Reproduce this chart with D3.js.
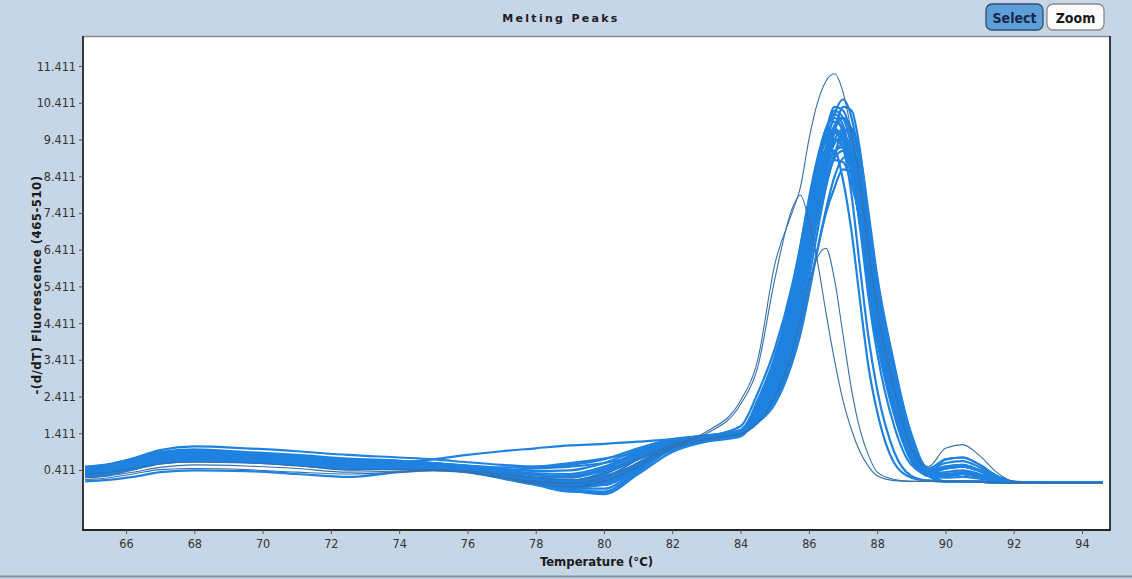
<!DOCTYPE html>
<html>
<head>
<meta charset="utf-8">
<script src="https://cdn.jsdelivr.net/npm/d3@7"></script>
<style>
  html, body { margin: 0; padding: 0; background: #c6d6e6; }
  svg { display: block; }
</style>
</head>
<body>
<svg id="chart" width="1132" height="579"></svg>
<script>
// ---------- DATA ----------
const temps = [64.8, 65.5, 66.2, 67, 68, 69.5, 71, 72.5, 74, 75, 76, 77, 78, 79, 80, 81, 82, 83, 84,
  84.5, 85, 85.5, 85.75, 86, 86.25, 86.5, 86.75, 87, 87.25, 87.5, 87.75, 88, 88.5, 89, 89.5,
  90, 90.5, 91, 91.5, 92, 93, 94.6];

const bundleSeries = [
  [0.48,0.55,0.7,0.88,0.95,0.88,0.8,0.7,0.66,0.6, 0.5,0.4,0.32,0.3,0.5,0.9,1.2,1.32,1.45, 2.0,2.9,4.4,5.4,6.8,8.0,9.0,9.65,9.6,9.0, 7.9,6.0,4.6,2.5,0.9,0.3, 0.25,0.3,0.22,0.12,0.07,0.06,0.06],
  [0.42,0.5,0.63,0.8,0.88,0.82,0.74,0.62,0.6,0.55, 0.45,0.3,0.2,0.12,0.3,0.75,1.12,1.3,1.4, 1.8,2.5,3.8,4.7,6.0,7.3,8.3,9.0,9.3,8.9, 8.0,6.6,5.0,2.9,1.1,0.35, 0.45,0.5,0.38,0.18,0.08,0.06,0.06],
  [0.38,0.44,0.56,0.72,0.8,0.76,0.67,0.56,0.55,0.5, 0.4,0.25,0.1,0.0,0.1,0.6,1.05,1.25,1.38, 2.2,3.3,5.0,6.2,7.6,8.8,9.7,10.1,9.8,8.8, 7.3,5.4,4.0,2.0,0.7,0.25, 0.1,0.1,0.09,0.07,0.06,0.06,0.06],
  [0.3,0.36,0.48,0.65,0.72,0.7,0.6,0.48,0.5,0.45, 0.36,0.2,0.05,-0.1,-0.1,0.45,1.0,1.22,1.35, 1.8,2.4,3.7,4.6,5.9,7.3,8.6,9.6,10.3,10.2, 9.1,7.2,5.4,3.0,1.2,0.4, 0.5,0.55,0.4,0.2,0.08,0.06,0.06],
  [0.1,0.14,0.22,0.35,0.4,0.38,0.3,0.22,0.35,0.4, 0.35,0.22,0.05,-0.15,-0.25,0.3,0.9,1.18,1.32, 1.9,2.7,4.1,5.0,6.3,7.4,8.3,8.85,8.8,8.2, 7.2,5.6,4.2,2.3,0.8,0.3, 0.25,0.3,0.22,0.12,0.07,0.06,0.06],
  [0.42,0.52,0.72,0.95,1.05,1.0,0.92,0.82,0.75,0.7, 0.62,0.55,0.5,0.55,0.7,1.0,1.25,1.35,1.45, 1.9,2.7,4.2,5.2,6.6,8.0,9.2,10.1,10.5,10.0, 8.7,6.7,5.0,2.7,1.0,0.3, 0.7,0.75,0.55,0.25,0.09,0.06,0.06],
  [0.35,0.4,0.52,0.68,0.75,0.72,0.66,0.58,0.62,0.7, 0.82,0.92,1.0,1.08,1.12,1.18,1.25,1.35,1.5, 2.1,3.1,4.7,5.8,7.1,8.2,9.0,9.4,9.2,8.4, 7.1,5.4,4.0,2.1,0.7,0.25, 0.1,0.1,0.09,0.07,0.06,0.06,0.06],
  [0.45,0.52,0.66,0.82,0.9,0.85,0.76,0.66,0.62,0.58, 0.5,0.42,0.45,0.5,0.6,0.8,1.1,1.28,1.4, 1.7,2.2,3.3,4.1,5.2,6.4,7.5,8.4,8.9,9.0, 8.4,7.0,5.5,3.2,1.4,0.45, 0.7,0.75,0.55,0.25,0.09,0.06,0.06],
  [0.22,0.28,0.42,0.58,0.65,0.62,0.55,0.42,0.45,0.45, 0.38,0.28,0.15,0.1,0.25,0.55,0.95,1.2,1.35, 2.0,2.8,4.3,5.3,6.7,8.0,9.1,9.8,10.0,9.5, 8.3,6.4,4.8,2.6,0.95,0.3, 0.25,0.3,0.22,0.12,0.07,0.06,0.06],
  [0.35,0.42,0.58,0.76,0.84,0.8,0.72,0.62,0.58,0.52, 0.42,0.3,0.12,0.02,0.0,0.5,1.05,1.27,1.4, 1.8,2.6,3.9,4.9,6.2,7.5,8.6,9.3,9.5,9.2, 8.2,6.6,5.1,2.9,1.1,0.35, 0.45,0.5,0.38,0.18,0.08,0.06,0.06],
  [0.44,0.52,0.66,0.83,0.9,0.84,0.75,0.64,0.6,0.54, 0.44,0.32,0.18,0.08,0.2,0.7,1.1,1.28,1.4, 1.7,2.3,3.4,4.2,5.3,6.4,7.4,8.1,8.6,8.5, 7.9,6.6,5.2,3.0,1.2,0.4, 0.1,0.1,0.09,0.07,0.06,0.06,0.06],
  [0.4,0.47,0.6,0.76,0.83,0.79,0.7,0.58,0.55,0.49, 0.38,0.22,0.06,-0.05,0.05,0.55,1.02,1.25,1.38, 2.1,3.0,4.6,5.7,7.2,8.5,9.6,10.2,10.0,9.2, 7.8,5.9,4.4,2.3,0.8,0.28, 0.25,0.3,0.22,0.12,0.07,0.06,0.06],
  [0.33,0.4,0.53,0.7,0.77,0.74,0.64,0.52,0.52,0.47, 0.37,0.22,0.08,-0.02,0.05,0.5,1.02,1.24,1.37, 1.95,2.8,4.3,5.3,6.6,7.8,8.8,9.4,9.4,8.9, 7.8,6.1,4.7,2.6,0.95,0.3, 0.1,0.1,0.09,0.07,0.06,0.06,0.06],
  [0.47,0.54,0.68,0.85,0.92,0.86,0.77,0.67,0.63,0.6, 0.53,0.48,0.5,0.6,0.72,0.9,1.15,1.3,1.42, 2.0,3.0,4.7,5.8,7.1,8.3,9.2,9.6,9.2,7.9, 5.9,4.0,2.6,0.9,0.25,0.12, 0.1,0.1,0.09,0.07,0.06,0.06,0.06],
  [0.36,0.43,0.6,0.78,0.86,0.82,0.74,0.64,0.6,0.54, 0.44,0.32,0.15,0.05,0.1,0.6,1.08,1.28,1.4, 1.9,2.7,4.1,5.1,6.5,7.8,8.9,9.7,10.0,9.7, 8.6,6.8,5.2,2.9,1.1,0.35, 0.45,0.5,0.38,0.18,0.08,0.06,0.06],
  [0.5,0.57,0.72,0.9,0.97,0.9,0.82,0.72,0.66,0.6, 0.52,0.44,0.38,0.4,0.6,0.95,1.22,1.33,1.45, 2.0,3.0,4.6,5.6,7.0,8.2,9.1,9.6,9.5,8.8, 7.5,5.7,4.3,2.3,0.8,0.28, 0.25,0.3,0.22,0.12,0.07,0.06,0.06],
  [0.37,0.43,0.55,0.7,0.78,0.75,0.66,0.55,0.53,0.48, 0.38,0.2,0.02,-0.12,-0.18,0.4,1.0,1.23,1.37, 1.85,2.6,4.0,5.0,6.3,7.6,8.7,9.4,9.7,9.4, 8.4,6.7,5.2,3.0,1.1,0.35, 0.1,0.1,0.09,0.07,0.06,0.06,0.06],
  [0.41,0.48,0.62,0.79,0.86,0.81,0.72,0.6,0.57,0.52, 0.43,0.3,0.17,0.1,0.35,0.8,1.15,1.3,1.42, 1.9,2.7,4.0,5.0,6.3,7.5,8.5,9.1,9.2,8.7, 7.7,6.1,4.6,2.5,0.9,0.3, 0.45,0.5,0.38,0.18,0.08,0.06,0.06],
  [0.28,0.34,0.46,0.62,0.7,0.68,0.58,0.46,0.48,0.44, 0.35,0.18,0.0,-0.18,-0.2,0.35,0.98,1.2,1.35, 2.1,3.2,4.9,6.0,7.4,8.6,9.5,9.9,9.7,8.8, 7.4,5.6,4.2,2.1,0.75,0.25, 0.25,0.3,0.22,0.12,0.07,0.06,0.06],
  [0.25,0.3,0.44,0.6,0.67,0.64,0.56,0.44,0.46,0.46, 0.4,0.3,0.2,0.2,0.4,0.7,1.05,1.25,1.38, 2.3,3.5,5.3,6.5,7.7,8.6,9.1,9.1,8.3,6.9, 5.0,3.2,2.0,0.6,0.2,0.12, 0.1,0.1,0.09,0.07,0.06,0.06,0.06],
  [0.43,0.5,0.64,0.82,0.9,0.85,0.78,0.68,0.64,0.58, 0.48,0.36,0.26,0.22,0.42,0.85,1.18,1.32,1.6, 2.5,3.7,5.4,6.5,7.8,8.9,9.7,10.0,9.6,8.6, 7.0,5.1,3.6,1.6,0.55,0.3, 0.5,0.55,0.4,0.2,0.08,0.06,0.06],
  [0.32,0.38,0.5,0.66,0.74,0.71,0.62,0.5,0.5,0.46, 0.37,0.22,0.08,-0.06,0.0,0.45,1.0,1.22,1.36, 1.75,2.35,3.5,4.4,5.6,6.9,8.1,9.0,9.6,9.7, 9.0,7.4,5.7,3.3,1.3,0.4, 0.6,0.65,0.48,0.22,0.08,0.06,0.06],
  [0.46,0.53,0.67,0.84,0.92,0.87,0.79,0.69,0.64,0.59, 0.5,0.38,0.28,0.25,0.45,0.85,1.17,1.31,1.5, 2.2,3.2,4.8,5.9,7.3,8.6,9.6,10.3,10.2,9.5, 8.1,6.2,4.6,2.4,0.85,0.3, 0.35,0.4,0.3,0.15,0.07,0.06,0.06],
  [0.26,0.32,0.45,0.6,0.68,0.66,0.57,0.45,0.47,0.45, 0.37,0.22,0.06,-0.08,0.02,0.45,0.98,1.22,1.36, 1.9,2.6,3.9,4.8,6.0,7.2,8.2,8.9,9.1,8.8, 8.0,6.5,5.0,2.8,1.05,0.33, 0.3,0.35,0.26,0.13,0.07,0.06,0.06],
  [0.4,0.46,0.58,0.74,0.82,0.78,0.7,0.6,0.57,0.52, 0.42,0.28,0.14,0.05,0.15,0.6,1.05,1.26,1.45, 2.3,3.4,5.1,6.2,7.5,8.6,9.4,9.7,9.4,8.5, 7.1,5.3,3.9,1.9,0.65,0.25, 0.2,0.22,0.17,0.1,0.07,0.06,0.06]
];

const outlierSeries = [
  [0.15,0.2,0.3,0.42,0.45,0.42,0.35,0.3,0.35,0.4, 0.38,0.3,0.2,0.15,0.3,0.7,1.1,1.45,2.3, 3.4,6.0,7.4,8.1,9.4,10.4,11.0,11.2,10.7,9.6, 8.2,6.4,4.8,2.6,1.0,0.5, 1.0,1.1,0.8,0.35,0.1,0.06,0.06],
  [0.3,0.35,0.45,0.58,0.62,0.6,0.52,0.42,0.42,0.42, 0.35,0.22,0.1,0.05,0.2,0.6,1.05,1.4,2.2, 3.2,5.6,7.5,7.9,7.2,6.1,4.7,3.4,2.3,1.5, 0.9,0.5,0.25,0.12,0.1,0.1, 0.1,0.1,0.09,0.07,0.06,0.06,0.06],
  [0.2,0.25,0.35,0.48,0.55,0.52,0.45,0.35,0.38,0.4, 0.35,0.2,0.05,-0.05,0.1,0.5,1.0,1.25,1.4, 1.7,2.4,3.6,4.5,5.5,6.2,6.45,5.6,4.1,2.6, 1.5,0.8,0.35,0.15,0.1,0.1, 0.1,0.1,0.09,0.07,0.06,0.06,0.06]
];

const yTicks = [0.411, 1.411, 2.411, 3.411, 4.411, 5.411, 6.411, 7.411, 8.411, 9.411, 10.411, 11.411];
const xTicks = [66, 68, 70, 72, 74, 76, 78, 80, 82, 84, 86, 88, 90, 92, 94];
const titleText = "Melting Peaks";
const xTitle = "Temperature (°C)";
const yTitle = "-(d/dT) Fluorescence (465-510)";
const buttons = ["Select", "Zoom"];

// ---------- LAYOUT ----------
const svg = d3.select("#chart");
const plot = { left: 83, right: 1110, top: 36, bottom: 530 };
const x = d3.scaleLinear().domain([64.74, 94.82]).range([plot.left, plot.right]);
const y = d3.scaleLinear().domain([-1.225, 12.23]).range([plot.bottom, plot.top]);

// background panel
svg.append("rect").attr("x", 0).attr("y", 0).attr("width", 1132).attr("height", 579).attr("fill", "#c6d6e6");
svg.append("line").attr("x1", 0).attr("x2", 1132).attr("y1", 576.5).attr("y2", 576.5)
  .attr("stroke", "#8795a3").attr("stroke-width", 2);

// plot area
svg.append("rect").attr("x", plot.left).attr("y", plot.top)
  .attr("width", plot.right - plot.left).attr("height", plot.bottom - plot.top)
  .attr("fill", "#ffffff");

const clip = svg.append("defs").append("clipPath").attr("id", "clip");
clip.append("rect").attr("x", plot.left).attr("y", plot.top)
  .attr("width", plot.right - plot.left).attr("height", plot.bottom - plot.top);

const line = d3.line()
  .x((d, i) => x(temps[i]))
  .y(d => y(d))
  .curve(d3.curveMonotoneX);

const lines = svg.append("g").attr("clip-path", "url(#clip)");
lines.selectAll("path.bundle").data(bundleSeries).join("path")
  .attr("class", "bundle")
  .attr("d", line)
  .attr("fill", "none")
  .attr("stroke", "#1f82e0")
  .attr("stroke-width", 2.2)
  .attr("stroke-linejoin", "round");
lines.selectAll("path.outlier").data(outlierSeries).join("path")
  .attr("class", "outlier")
  .attr("d", line)
  .attr("fill", "none")
  .attr("stroke", "#3470ad")
  .attr("stroke-width", 1.1);

// frame
svg.append("line").attr("x1", plot.left).attr("x2", plot.right).attr("y1", plot.top + 0.5).attr("y2", plot.top + 0.5)
  .attr("stroke", "#8a8a8a").attr("stroke-width", 1.5);
svg.append("path")
  .attr("d", `M${plot.left},${plot.top} V${plot.bottom} H${plot.right} V${plot.top}`)
  .attr("fill", "none").attr("stroke", "#262626").attr("stroke-width", 1.8);

// axes
const fontAxis = "'DejaVu Sans Condensed', 'DejaVu Sans', sans-serif";
const yAxis = d3.axisLeft(y).tickValues(yTicks).tickSize(4).tickPadding(3)
  .tickFormat(d => d3.format(".3f")(d));
const gy = svg.append("g").attr("transform", `translate(${plot.left},0)`).call(yAxis);
gy.select(".domain").remove();
gy.selectAll(".tick line").attr("stroke", "#555");
gy.selectAll(".tick text").attr("fill", "#333").style("font-family", fontAxis).style("font-size", "12.5px");

const xAxis = d3.axisBottom(x).tickValues(xTicks).tickSize(4).tickPadding(5).tickFormat(d3.format("d"));
const gx = svg.append("g").attr("transform", `translate(0,${plot.bottom})`).call(xAxis);
gx.select(".domain").remove();
gx.selectAll(".tick line").attr("stroke", "#555");
gx.selectAll(".tick text").attr("fill", "#333").style("font-family", fontAxis).style("font-size", "12.5px");

// titles
svg.append("text").attr("x", 561).attr("y", 22).attr("text-anchor", "middle")
  .style("font-family", "'DejaVu Sans', sans-serif").style("font-size", "11px").style("font-weight", "bold")
  .style("letter-spacing", "2.3px").attr("fill", "#1c1c28").text(titleText);

svg.append("text").attr("x", (plot.left + plot.right) / 2).attr("y", 566).attr("text-anchor", "middle")
  .style("font-family", fontAxis).style("font-size", "13px").style("font-weight", "bold")
  .attr("fill", "#1a1a1a").text(xTitle);

svg.append("text").attr("transform", "translate(41,285) rotate(-90)").attr("text-anchor", "middle")
  .style("font-family", fontAxis).style("font-size", "13px").style("font-weight", "bold")
  .style("letter-spacing", "0.5px")
  .attr("fill", "#1a1a1a").text(yTitle);

// buttons
const btn = svg.append("g").selectAll("g").data(buttons).join("g")
  .attr("transform", (d, i) => `translate(${986 + i * 61},4)`);
btn.append("rect").attr("width", 57).attr("height", 26).attr("rx", 6)
  .attr("fill", (d, i) => i === 0 ? "#5c9fd9" : "#fbfbfb")
  .attr("stroke", (d, i) => i === 0 ? "#2d4e72" : "#8a8a8a").attr("stroke-width", 1.3);
btn.append("text").attr("x", 28.5).attr("y", 19).attr("text-anchor", "middle")
  .style("font-family", fontAxis).style("font-size", "14px").style("font-weight", "bold")
  .attr("fill", (d, i) => i === 0 ? "#18284a" : "#1a1a1a").text(d => d);
</script>
</body>
</html>
